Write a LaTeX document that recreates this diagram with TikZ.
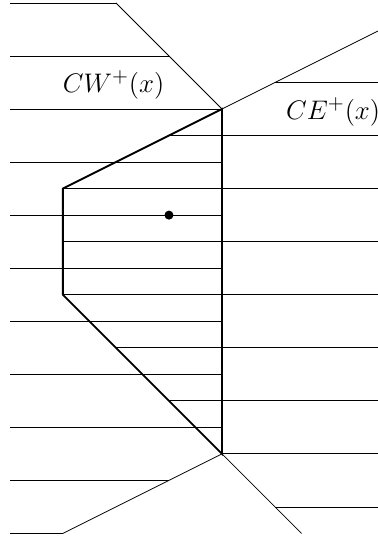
\documentclass[tikz,border=0pt]{standalone}
\usepackage{amsmath}
\usepackage{tikz}
\usetikzlibrary{positioning}

\begin{document}
\begin{tikzpicture}[x=0.5cm, y=0.5cm,
  hline/.style={black, thin},
  cone/.style={black, thin},
  region/.style={black, line width=1pt, line join=miter},
  lbl/.style={font=\fontsize{15.3pt}{18pt}\selectfont},
]
  \useasboundingbox (-8.37,-16.21) rectangle (5.88,4.11);
  \clip (-8.37,-16.21) rectangle (5.88,4.11);

  % --- corners of the region ---
  \coordinate (top) at (0,0);
  \coordinate (nw) at (-6,-3);
  \coordinate (sw) at (-6,-7);
  \coordinate (bot) at (0,-13);

  % --- left lines (even heights) ---
  \foreach \y/\xe in {4/-4, 2/-2, 0/0, -2/0, -4/0, -6/0, -8/0, -10/0,
                      -12/0, -14/-2, -16/-6} {
    \draw[hline] (-8,\y) -- (\xe,\y);
  }

  % --- right lines (odd heights) ---
  \foreach \y/\xs in {1/2, -1/-2, -3/-6, -5/-6, -7/-6, -9/-4, -11/-2,
                      -13/0, -15/2} {
    \draw[hline] (\xs,\y) -- (7,\y);
  }

  % cones
  \draw[cone] (-4,4) -- (top) -- (8,4);
  \draw[cone] (-6,-16) -- (bot) -- (3,-16);

  % region
  \draw[region] (top) -- (nw) -- (sw) -- (bot) -- cycle;

  \fill (-2,-4) circle (0.17);

  \node[lbl] (cw) at (-4.09,0.9) {$CW^+(x)$};
  \node[lbl, anchor=west] (ce) at (2.17,-0.1) {$CE^+(x)$};
\end{tikzpicture}
\end{document}
